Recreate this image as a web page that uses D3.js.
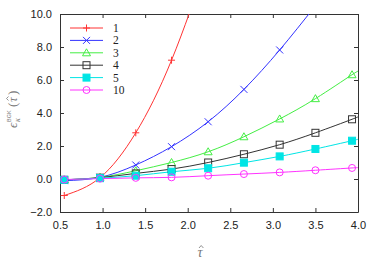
<!DOCTYPE html>
<html>
<head>
<meta charset="utf-8">
<script src="https://cdn.jsdelivr.net/npm/d3@7"></script>
<style>
  body { margin: 0; background: #fff; }
  .tick text { font-family: "Liberation Sans", Arial, sans-serif; font-size: 11px; fill: #222; }
  .axis path, .axis line { stroke: #333; }
</style>
</head>
<body>
<div id="chart"></div>
<script>
var svgWidth = 374;
var svgHeight = 263;

var margin = { top: 14, right: 16, bottom: 51, left: 60 };
var width = svgWidth - margin.left - margin.right;
var height = svgHeight - margin.top - margin.bottom;

// sample points of tau-hat (markers)
var tau = [0.55, 0.97, 1.39, 1.81, 2.24, 2.66, 3.08, 3.50, 3.93];
var tauEnd = 4.0;

// series labels and values
var seriesNames = ["1", "2", "3", "4", "5", "10"];
var s1 = [-1.0, 0.08, 2.8, 7.2, 13.3, null, null, null, null];
var s2 = [-0.1, 0.1, 0.85, 1.96, 3.47, 5.43, 7.82, 10.5, null];
var s3 = [-0.05, 0.1, 0.5, 1.0, 1.65, 2.56, 3.64, 4.87, 6.32];
var s4 = [-0.05, 0.08, 0.34, 0.6, 1.0, 1.5, 2.08, 2.8, 3.62];
var s5 = [-0.05, 0.05, 0.2, 0.44, 0.65, 0.99, 1.37, 1.82, 2.32];
var s10 = [-0.03, 0.02, 0.07, 0.1, 0.2, 0.3, 0.4, 0.53, 0.67];
// where each line meets the right edge (null = leaves through the top)
var endValues = [null, null, 6.5, 3.78, 2.42, 0.69];

var xTicks = [0.5, 1.0, 1.5, 2.0, 2.5, 3.0, 3.5, 4.0];
var yTicks = [-2, 0, 2, 4, 6, 8, 10];

var allSeries = [s1, s2, s3, s4, s5, s10];
var colors = ["#ff3333", "#3333ff", "#44ee44", "#333333", "#00e5e5", "#ff33ff"];
var symbols = ["plus", "cross", "triangle", "square", "fsquare", "circle"];

var svg = d3.select("#chart").append("svg")
  .attr("width", svgWidth)
  .attr("height", svgHeight);

var chartGroup = svg.append("g")
  .attr("transform", `translate(${margin.left}, ${margin.top})`);

var x = d3.scaleLinear().domain([0.5, 4.0]).range([0, width]);
var y = d3.scaleLinear().domain([-2, 10]).range([height, 0]);

svg.append("defs").append("clipPath").attr("id", "clip")
  .append("rect").attr("width", width).attr("height", height);

// axes with inward ticks, mirrored top and right
chartGroup.append("g").attr("class", "axis")
  .attr("transform", `translate(0, ${height})`)
  .call(d3.axisBottom(x).tickValues(xTicks).tickFormat(d3.format(".1f")).tickSizeInner(-4).tickSizeOuter(0).tickPadding(9));
chartGroup.append("g").attr("class", "axis")
  .call(d3.axisTop(x).tickValues(xTicks).tickFormat("").tickSizeInner(-4).tickSizeOuter(0));
chartGroup.append("g").attr("class", "axis")
  .call(d3.axisLeft(y).tickValues(yTicks).tickFormat(d3.format(".1f")).tickSizeInner(-4).tickSizeOuter(0).tickPadding(8));
chartGroup.append("g").attr("class", "axis")
  .attr("transform", `translate(${width}, 0)`)
  .call(d3.axisRight(y).tickValues(yTicks).tickFormat("").tickSizeInner(-4).tickSizeOuter(0));

// draw a marker of given type at (cx, cy)
function drawMarker(g, type, cx, cy, color) {
  var r = 3.5;
  if (type === "plus") {
    g.append("path").attr("d", `M${cx - r},${cy}H${cx + r}M${cx},${cy - r}V${cy + r}`)
      .attr("stroke", color).attr("fill", "none");
  } else if (type === "cross") {
    g.append("path").attr("d", `M${cx - r},${cy - r}L${cx + r},${cy + r}M${cx - r},${cy + r}L${cx + r},${cy - r}`)
      .attr("stroke", color).attr("fill", "none");
  } else if (type === "triangle") {
    g.append("path").attr("d", `M${cx},${cy - r - 0.5}L${cx + r + 0.5},${cy + r - 0.5}L${cx - r - 0.5},${cy + r - 0.5}Z`)
      .attr("stroke", color).attr("fill", "none");
  } else if (type === "square") {
    g.append("rect").attr("x", cx - r).attr("y", cy - r).attr("width", 2 * r).attr("height", 2 * r)
      .attr("stroke", color).attr("fill", "none");
  } else if (type === "fsquare") {
    g.append("rect").attr("x", cx - r).attr("y", cy - r).attr("width", 2 * r).attr("height", 2 * r)
      .attr("stroke", color).attr("fill", color);
  } else {
    g.append("circle").attr("cx", cx).attr("cy", cy).attr("r", r)
      .attr("stroke", color).attr("fill", "none");
  }
}

var plotGroup = chartGroup.append("g").attr("clip-path", "url(#clip)");

var line = d3.line()
  .x(d => x(d[0]))
  .y(d => y(d[1]))
  .curve(d3.curveNatural);

allSeries.forEach(function(vals, i) {
  var pts = [];
  vals.forEach(function(v, j) { if (v !== null) pts.push([tau[j], v]); });
  if (endValues[i] !== null) pts.push([tauEnd, endValues[i]]);
  plotGroup.append("path")
    .attr("d", line(pts))
    .attr("fill", "none")
    .attr("stroke", colors[i])
    .attr("stroke-width", 1);
});

// markers, later series drawn on top
allSeries.forEach(function(vals, i) {
  var g = plotGroup.append("g").attr("stroke-width", 1);
  vals.forEach(function(v, j) {
    if (v !== null) drawMarker(g, symbols[i], x(tau[j]), y(v), colors[i]);
  });
});

// legend
var legend = chartGroup.append("g").attr("transform", "translate(10, 14)");
seriesNames.forEach(function(name, i) {
  var ly = i * 12.4;
  legend.append("line").attr("x1", 0).attr("x2", 33).attr("y1", ly).attr("y2", ly)
    .attr("stroke", colors[i]).attr("stroke-width", 1);
  drawMarker(legend, symbols[i], 16.5, ly, colors[i]);
  legend.append("text").attr("x", 43).attr("y", ly + 4)
    .attr("font-family", "'Liberation Serif', serif")
    .attr("font-size", 11.5).attr("fill", "#222")
    .text(name);
});

// y axis label, built in a rotated group
var yLab = svg.append("g")
  .attr("transform", "translate(17, 107) rotate(-90)")
  .attr("fill", "#777")
  .attr("font-family", "'Liberation Serif', serif");
yLab.append("text").attr("x", -21).attr("y", 0).attr("font-size", 13).attr("font-style", "italic").text("ϵ");
yLab.append("text").attr("x", -15).attr("y", -6).attr("font-size", 5.5)
  .attr("font-family", "'Liberation Sans', sans-serif").text("BGK");
yLab.append("text").attr("x", -15).attr("y", 3).attr("font-size", 8).attr("font-style", "italic").text("κ");
yLab.append("text").attr("x", 0).attr("y", 0).attr("font-size", 13).text("(");
yLab.append("text").attr("x", 5).attr("y", 0).attr("font-size", 13).attr("font-style", "italic").text("τ");
yLab.append("path").attr("d", "M6.5,-8.5L8.5,-10.5L10.5,-8.5").attr("fill", "none").attr("stroke", "#777").attr("stroke-width", 0.8);
yLab.append("text").attr("x", 12).attr("y", 0).attr("font-size", 13).text(")");

// x axis label
var xLab = svg.append("g")
  .attr("transform", "translate(200, 257)")
  .attr("fill", "#777")
  .attr("font-family", "'Liberation Serif', serif")
  .attr("text-anchor", "middle");
xLab.append("text").attr("font-size", 14).attr("font-style", "italic").text("τ");
xLab.append("path").attr("d", "M-1,-9L1.2,-11.5L3.4,-9").attr("fill", "none").attr("stroke", "#777").attr("stroke-width", 0.8);
</script>
</body>
</html>
